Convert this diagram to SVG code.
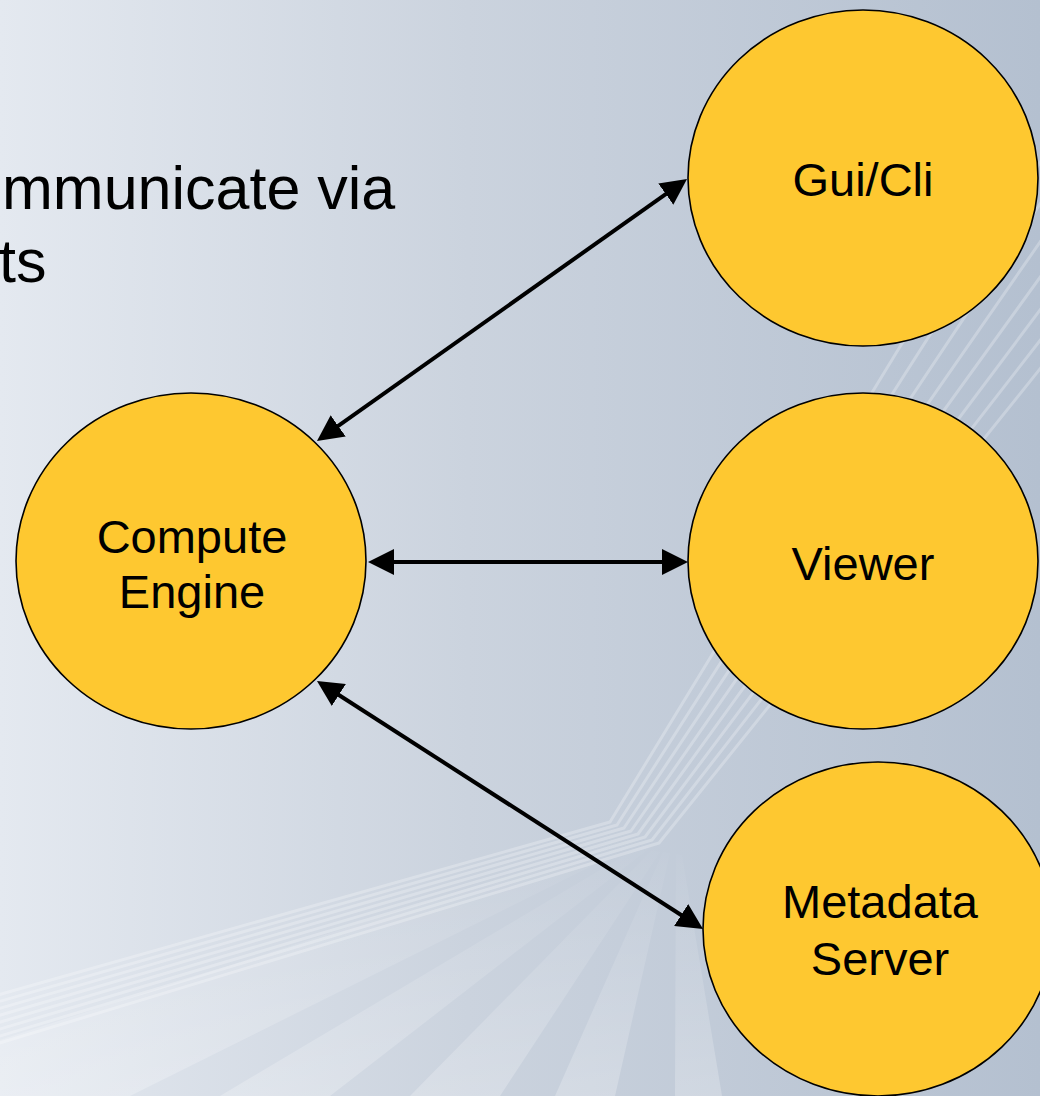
<svg xmlns="http://www.w3.org/2000/svg" width="1040" height="1096" viewBox="0 0 1040 1096">
  <defs>
    <linearGradient id="bg" x1="0" y1="0" x2="1" y2="0">
      <stop offset="0" stop-color="#E4E9F0"/>
      <stop offset="0.45" stop-color="#CBD3DE"/>
      <stop offset="1" stop-color="#B4C0D0"/>
    </linearGradient>
    <linearGradient id="rayFade" gradientUnits="userSpaceOnUse" x1="0" y1="1096" x2="0" y2="830">
      <stop offset="0" stop-color="#FFFFFF" stop-opacity="0.24"/>
      <stop offset="1" stop-color="#FFFFFF" stop-opacity="0"/>
    </linearGradient>
    <marker id="head" viewBox="0 0 26 26" refX="6" refY="13" markerWidth="26" markerHeight="26" markerUnits="userSpaceOnUse" orient="auto-start-reverse">
      <path d="M0,0 L26,13 L0,26 z" fill="#000000"/>
    </marker>
    <style>
      .node ellipse { fill: #FEC830; stroke: #000000; stroke-width: 1.6; }
      .label { font-family: "Liberation Sans", Arial, sans-serif; font-size: 47px; fill: #000000; text-anchor: middle; }
      .body { font-family: "Liberation Sans", Arial, sans-serif; font-size: 61px; fill: #000000; }
      .link { stroke: #000000; stroke-width: 4; fill: none; marker-start: url(#head); marker-end: url(#head); }
      .stripe { fill: none; stroke: #FFFFFF; stroke-opacity: 0.26; stroke-width: 3; stroke-linejoin: round; }
      .ray { fill: url(#rayFade); }
    </style>
  </defs>

  <!-- slide background -->
  <rect x="0" y="0" width="1040" height="1096" fill="url(#bg)"/>

  <!-- broad light rays fanning from the bottom edge -->
  <g id="rays">
    <polygon class="ray" points="0,1040 0,1096 130,1096 640,842 630,836"/>
    <polygon class="ray" points="220,1096 330,1096 650,848 642,845"/>
    <polygon class="ray" points="410,1096 500,1096 660,852 652,850"/>
    <polygon class="ray" points="555,1096 615,1096 670,853 663,852"/>
    <polygon class="ray" points="675,1096 722,1096 682,855 676,854"/>
  </g>

  <!-- bundle of thin bent stripes -->
  <g id="stripes">
    <polyline class="stripe" points="-20,1000 610,822 1020,150"/>
    <polyline class="stripe" points="-20,1007 617,825 1048,150"/>
    <polyline class="stripe" points="-20,1014 624,828 1076,150"/>
    <polyline class="stripe" points="-20,1021 631,831 1104,150"/>
    <polyline class="stripe" points="-20,1028 638,834 1132,150"/>
    <polyline class="stripe" points="-20,1035 645,837 1160,150"/>
    <polyline class="stripe" points="-20,1042 652,840 1188,150"/>
    <polyline class="stripe" points="-20,1049 659,843 1216,150"/>
  </g>

  <!-- body text -->
  <g id="caption">
    <text class="body" x="2" y="209">mmunicate via</text>
    <text class="body" x="-1" y="282">ts</text>
  </g>

  <!-- connectors -->
  <g id="connectors">
    <line class="link" x1="333.3" y1="429.4" x2="670.7" y2="190.6"/>
    <line class="link" x1="388" y1="562" x2="668" y2="562"/>
    <line class="link" x1="333.8" y1="691.8" x2="686.2" y2="918.2"/>
  </g>

  <!-- nodes -->
  <g id="compute-engine" class="node">
    <ellipse cx="191" cy="561" rx="175" ry="168"/>
    <text class="label" x="192" y="553">Compute</text>
    <text class="label" x="192" y="608">Engine</text>
  </g>
  <g id="gui-cli" class="node">
    <ellipse cx="863" cy="178" rx="175" ry="168"/>
    <text class="label" x="863" y="196">Gui/Cli</text>
  </g>
  <g id="viewer" class="node">
    <ellipse cx="863" cy="561" rx="175" ry="168"/>
    <text class="label" x="863" y="580">Viewer</text>
  </g>
  <g id="metadata-server" class="node">
    <ellipse cx="878" cy="929" rx="175" ry="167"/>
    <text class="label" x="880" y="918">Metadata</text>
    <text class="label" x="880" y="975">Server</text>
  </g>
</svg>
